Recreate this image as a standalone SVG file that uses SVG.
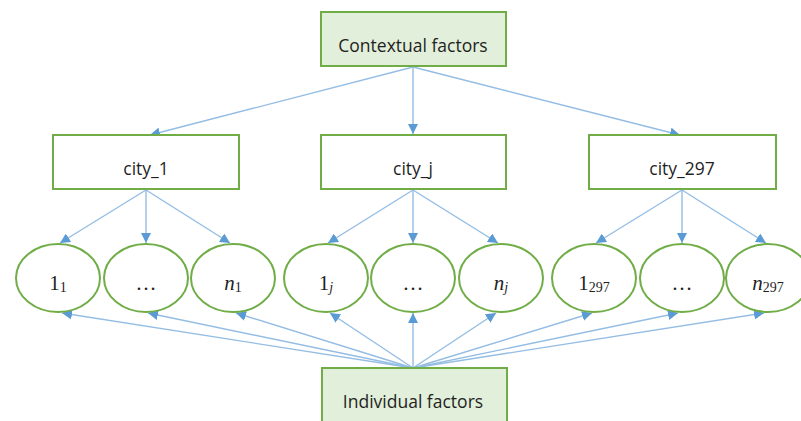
<svg xmlns="http://www.w3.org/2000/svg" width="801" height="421" viewBox="0 0 801 421">
<style>
.fbox{fill:#E2EFDA;stroke:#70AD47;stroke-width:2}
.cbox{fill:#FFFFFF;stroke:#70AD47;stroke-width:2}
.ell{fill:#FFFFFF;stroke:#70AD47;stroke-width:2}
.lbl{font-family:"Open Sans","Liberation Sans",sans-serif;font-size:17.5px;fill:#1F1F1F;text-anchor:middle}
.m{font-family:"Liberation Serif","DejaVu Serif",serif;font-size:21px;fill:#1F1F1F;text-anchor:middle}
.sub{font-size:14px}
.conn line{stroke:#94BDE4;stroke-width:1.4;marker-end:url(#ah)}
</style>
<defs>
<marker id="ah" viewBox="0 0 10 10" refX="10" refY="5" markerWidth="10" markerHeight="10" markerUnits="userSpaceOnUse" orient="auto">
<path d="M0,0 L10,5 L0,10 z" fill="#5B9BD5"/>
</marker>
</defs>
<rect width="801" height="421" fill="#FFFFFF"/>
<g id="connectors" class="conn">
<line x1="413" y1="67" x2="150" y2="135"/>
<line x1="413" y1="67" x2="413" y2="134"/>
<line x1="413" y1="67" x2="680" y2="135"/>
<line x1="146" y1="190" x2="60" y2="243"/>
<line x1="146" y1="190" x2="146" y2="243"/>
<line x1="146" y1="190" x2="230" y2="243"/>
<line x1="413" y1="190" x2="328" y2="243"/>
<line x1="413" y1="190" x2="413" y2="243"/>
<line x1="413" y1="190" x2="498" y2="243"/>
<line x1="682" y1="190" x2="596" y2="243"/>
<line x1="682" y1="190" x2="682" y2="243"/>
<line x1="682" y1="190" x2="766" y2="243"/>
<line x1="413" y1="368" x2="62" y2="313"/>
<line x1="413" y1="368" x2="148" y2="313"/>
<line x1="413" y1="368" x2="236" y2="313"/>
<line x1="413" y1="368" x2="330" y2="313"/>
<line x1="413" y1="368" x2="413" y2="313"/>
<line x1="413" y1="368" x2="496" y2="313"/>
<line x1="413" y1="368" x2="592" y2="313"/>
<line x1="413" y1="368" x2="678" y2="313"/>
<line x1="413" y1="368" x2="764" y2="313"/>
</g>
<g id="contextual">
<rect class="fbox" x="321" y="12" width="185" height="54"/>
<text class="lbl" x="413" y="52">Contextual factors</text>
</g>
<g id="city_1">
<rect class="cbox" x="53" y="135" width="186" height="54"/>
<text class="lbl" x="146" y="175">city_1</text>
</g>
<g id="city_j">
<rect class="cbox" x="321" y="135" width="185" height="54"/>
<text class="lbl" x="413" y="175">city_j</text>
</g>
<g id="city_297">
<rect class="cbox" x="589" y="135" width="187" height="54"/>
<text class="lbl" x="682" y="175">city_297</text>
</g>
<g id="e1_1"><ellipse class="ell" cx="58" cy="278" rx="42" ry="34"/><text class="m" x="58" y="290">1<tspan class="sub" dy="2">1</tspan></text></g>
<g id="e1_dots"><ellipse class="ell" cx="146" cy="278" rx="42" ry="34"/><text class="m" x="146" y="290">…</text></g>
<g id="e1_n"><ellipse class="ell" cx="233" cy="278" rx="42" ry="34"/><text class="m" x="233" y="290"><tspan font-style="italic">n</tspan><tspan class="sub" dy="2">1</tspan></text></g>
<g id="ej_1"><ellipse class="ell" cx="326" cy="278" rx="42" ry="34"/><text class="m" x="326" y="290">1<tspan class="sub" dy="2" font-style="italic">j</tspan></text></g>
<g id="ej_dots"><ellipse class="ell" cx="413" cy="278" rx="42" ry="34"/><text class="m" x="413" y="290">…</text></g>
<g id="ej_n"><ellipse class="ell" cx="501" cy="278" rx="42" ry="34"/><text class="m" x="501" y="290"><tspan font-style="italic">n</tspan><tspan class="sub" dy="2" font-style="italic">j</tspan></text></g>
<g id="e297_1"><ellipse class="ell" cx="594" cy="278" rx="42" ry="34"/><text class="m" x="594" y="290">1<tspan class="sub" dy="2">297</tspan></text></g>
<g id="e297_dots"><ellipse class="ell" cx="682" cy="278" rx="42" ry="34"/><text class="m" x="682" y="290">…</text></g>
<g id="e297_n"><ellipse class="ell" cx="768" cy="278" rx="42" ry="34"/><text class="m" x="768" y="290"><tspan font-style="italic">n</tspan><tspan class="sub" dy="2">297</tspan></text></g>
<g id="individual">
<rect class="fbox" x="322" y="368" width="185" height="60"/>
<text class="lbl" x="413" y="408">Individual factors</text>
</g>
</svg>
